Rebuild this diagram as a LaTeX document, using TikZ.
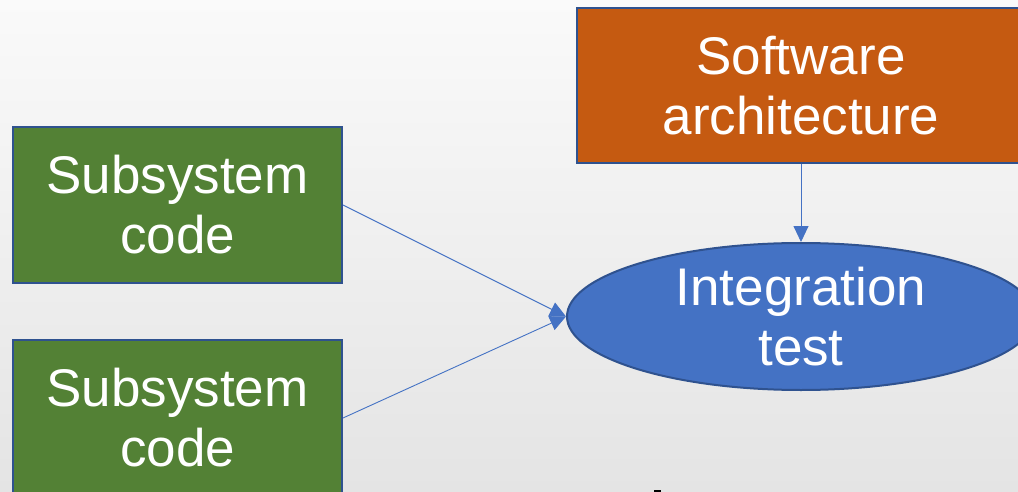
\documentclass[tikz,border=0pt]{standalone}
\usepackage{fontspec}
\setmainfont{Liberation Sans}
\usetikzlibrary{arrows.meta,shapes.geometric}
\definecolor{bgtop}{HTML}{FAFAFA}
\definecolor{bgbot}{HTML}{E4E4E4}
\definecolor{codegreen}{HTML}{538135}
\definecolor{archorange}{HTML}{C55A11}
\definecolor{testblue}{HTML}{4472C4}
\definecolor{edgeblue}{HTML}{2F528F}
\tikzset{
  label text/.style={text=white, align=center, font=\fontsize{53}{60}\selectfont},
  codebox/.style={label text, rectangle, draw=edgeblue, line width=2pt, fill=codegreen,
    minimum width=329pt, minimum height=156pt, inner sep=0pt},
  archbox/.style={label text, rectangle, draw=edgeblue, line width=2pt, fill=archorange,
    minimum width=448pt, minimum height=155pt, inner sep=0pt},
  testoval/.style={label text, ellipse, draw=edgeblue, line width=2pt, fill=testblue,
    minimum width=468pt, minimum height=147pt, inner sep=0pt},
  link/.style={draw=testblue, line width=0.9pt, -{Triangle[width=15pt,length=16pt]}},
}
\begin{document}
\begin{tikzpicture}[x=1pt,y=-1pt]
  \useasboundingbox (0,0) rectangle (1018,492);
  \begin{scope}
    \clip (0,0) rectangle (1018,492);
    \shade[top color=bgtop, bottom color=bgbot] (0,0) rectangle (1018,492);
    \node[codebox] (sub1) at (177.5,205) {Subsystem\\code};
    \node[codebox] (sub2) at (177.5,418) {Subsystem\\code};
    \node[archbox] (arch) at (801,85.5) {Software\\architecture};
    \node[testoval] (test) at (801,316.5) {Integration\\test};
    \draw[link] (sub1.east) -- (test.west);
    \draw[link] (sub2.east) -- (test.west);
    \draw[link] (arch.south) -- (test.north);
    \fill[black] (654,490) rectangle (661,492);
  \end{scope}
\end{tikzpicture}
\end{document}
